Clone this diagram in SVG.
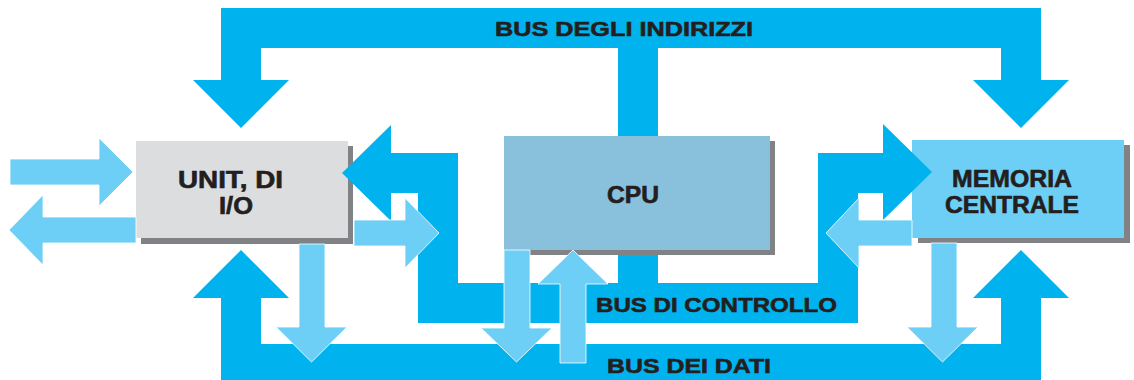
<svg xmlns="http://www.w3.org/2000/svg" width="1134" height="380" viewBox="0 0 1134 380">
<style>
.bus{fill:#00B3EE}
.arr{fill:#6DCFF6;stroke:#ffffff;stroke-width:0.8}
.shadow{fill:#808285}
.lbl{font-family:"Liberation Sans",Arial,sans-serif;font-weight:bold;fill:#231F20;stroke:#231F20;stroke-width:0.6}
.b{font-size:21px}
.n{font-size:23px}
</style>
<rect width="1134" height="380" fill="#ffffff"/>
<g id="connectors-back">
<path id="bus-indirizzi" class="bus" d="M221,8 H1041 V80 H1069 L1021,128 L973,80 H1001 V48 H658 V138 H618 V48 H261 V80 H289 L241,128 L193,80 H221 Z"/>
<path id="bus-dati" class="bus" d="M241,250 L289,298 H261 V344 H1001 V298 H973 L1021,250 L1069,298 H1041 V382 H221 V298 H193 Z"/>
</g>
<g id="io">
<rect class="shadow" x="141" y="146" width="212" height="98"/>
<rect x="136" y="141" width="212" height="97" fill="#DCDDDF"/>
<text class="lbl n" x="178" y="188" textLength="105" lengthAdjust="spacingAndGlyphs">UNIT, DI</text>
<text class="lbl n" x="219" y="214" textLength="34" lengthAdjust="spacingAndGlyphs">I/O</text>
</g>
<g id="cpu">
<rect class="shadow" x="509" y="141" width="266" height="114"/>
<rect x="504" y="136" width="266" height="114" fill="#89C0DC"/>
<text class="lbl n" x="607" y="203" textLength="52" lengthAdjust="spacingAndGlyphs">CPU</text>
</g>
<g id="memoria">
<rect class="shadow" x="918" y="145" width="212" height="98"/>
<rect x="912" y="140" width="212" height="98" fill="#6DCFF6"/>
<text class="lbl n" x="952" y="187" textLength="120" lengthAdjust="spacingAndGlyphs">MEMORIA</text>
<text class="lbl n" x="945" y="213" textLength="134" lengthAdjust="spacingAndGlyphs">CENTRALE</text>
</g>
<g id="connectors">
<path id="bus-controllo" class="bus" d="M342,173 L391,125 V153 H458 V283 H618 V255 H658 V283 H818 V153 H883 V124 L932,172 L883,220 V193 H858 V323 H418 V193 H391 V221 Z"/>
<path class="arr" d="M10,159 H99 V138 L133,172 L99,206 V185 H10 Z"/>
<path class="arr" d="M136,217 H43 V195 L9,230 L43,265 V243 H136 Z"/>
<path class="arr" d="M354,220 H405 V198 L439,233 L405,268 V246 H354 Z"/>
<path class="arr" d="M299,244 V327 H276 L311.5,362 L347,327 H325 V244 Z"/>
<path class="arr" d="M504,250 V328 H481 L516.5,362 L552,328 H530 V250 Z"/>
<path class="arr" d="M560,363 V284 H538 L573,250 L608,284 H586 V363 Z"/>
<path class="arr" d="M912,220 H859 V198 L826,233 L859,268 V246 H912 Z"/>
<path class="arr" d="M931,243 V327 H907 L942.5,362 L978,327 H957 V243 Z"/>
<text class="lbl b" x="495" y="36" textLength="258" lengthAdjust="spacingAndGlyphs">BUS DEGLI INDIRIZZI</text>
<text class="lbl b" x="596" y="312" textLength="241" lengthAdjust="spacingAndGlyphs">BUS DI CONTROLLO</text>
<text class="lbl b" x="607" y="373" textLength="164" lengthAdjust="spacingAndGlyphs">BUS DEI DATI</text>
</g>
</svg>
